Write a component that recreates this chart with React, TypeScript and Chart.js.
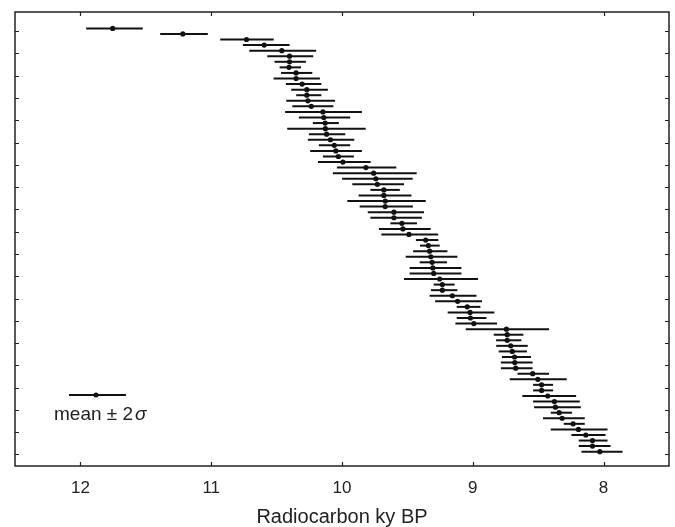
import React, { useEffect, useRef } from "react";
import { Chart, registerables } from "chart.js";

Chart.register(...registerables);

// ---- data (ky BP), one row per sample, top to bottom ----
const sampleIndex = [
  1, 2, 3, 4, 5, 6, 7, 8, 9, 10, 11, 12, 13, 14, 15, 16, 17, 18, 19, 20,
  21, 22, 23, 24, 25, 26, 27, 28, 29, 30, 31, 32, 33, 34, 35, 36, 37, 38, 39, 40,
  41, 42, 43, 44, 45, 46, 47, 48, 49, 50, 51, 52, 53, 54, 55, 56, 57, 58, 59, 60,
  61, 62, 63, 64, 65, 66, 67, 68, 69, 70, 71, 72, 73, 74, 75, 76, 77,
];

const meanAge = [
  11.753, 11.217, 10.73, 10.595, 10.46, 10.401, 10.401, 10.405, 10.351, 10.351,
  10.305, 10.269, 10.269, 10.261, 10.235, 10.146, 10.139, 10.129, 10.127, 10.118,
  10.089, 10.059, 10.047, 10.028, 9.993, 9.817, 9.758, 9.741, 9.73, 9.68,
  9.68, 9.669, 9.67, 9.603, 9.603, 9.542, 9.534, 9.488, 9.36, 9.34,
  9.33, 9.321, 9.311, 9.305, 9.299, 9.253, 9.233, 9.233, 9.156, 9.116,
  9.043, 9.021, 9.018, 8.992, 8.743, 8.737, 8.737, 8.71, 8.698, 8.681,
  8.679, 8.672, 8.542, 8.503, 8.474, 8.474, 8.427, 8.376, 8.368, 8.34,
  8.317, 8.233, 8.192, 8.136, 8.085, 8.085, 8.029,
];

// older end of the mean ± 2σ bar
const upperAge = [
  11.956, 11.39, 10.931, 10.758, 10.709, 10.571, 10.516, 10.477, 10.466, 10.523,
  10.429, 10.388, 10.35, 10.426, 10.38, 10.435, 10.33, 10.223, 10.419, 10.253,
  10.261, 10.177, 10.243, 10.146, 10.184, 10.039, 10.07, 9.999, 9.921, 9.783,
  9.873, 9.959, 9.865, 9.803, 9.783, 9.63, 9.718, 9.699, 9.435, 9.404,
  9.456, 9.513, 9.406, 9.483, 9.483, 9.526, 9.299, 9.32, 9.33, 9.288,
  9.123, 9.192, 9.123, 9.133, 9.054, 8.84, 8.822, 8.821, 8.802, 8.777,
  8.785, 8.785, 8.658, 8.718, 8.539, 8.539, 8.621, 8.539, 8.532, 8.404,
  8.463, 8.305, 8.404, 8.246, 8.19, 8.19, 8.169,
];

// younger end of the mean ± 2σ bar
const lowerAge = [
  11.523, 11.026, 10.522, 10.401, 10.198, 10.22, 10.276, 10.313, 10.227, 10.169,
  10.158, 10.108, 10.158, 10.053, 10.066, 9.848, 9.937, 10.024, 9.819, 9.975,
  9.906, 9.937, 9.848, 9.909, 9.781, 9.585, 9.429, 9.46, 9.526, 9.558,
  9.469, 9.36, 9.458, 9.373, 9.389, 9.427, 9.322, 9.265, 9.263, 9.253,
  9.194, 9.118, 9.197, 9.087, 9.087, 8.96, 9.139, 9.118, 8.972, 8.93,
  8.942, 8.835, 8.896, 8.815, 8.417, 8.613, 8.629, 8.58, 8.586, 8.555,
  8.543, 8.543, 8.417, 8.282, 8.386, 8.386, 8.21, 8.182, 8.174, 8.241,
  8.144, 8.144, 7.97, 7.985, 7.97, 7.947, 7.855,
];

const xTickValues = [12, 11, 10, 9, 8];
const yTickValues = [
  1.5, 5.5, 9.5, 13.5, 17.5, 21.5, 25.5, 29.5, 33.5, 37.5,
  41.5, 45.5, 49.5, 53.5, 57.5, 61.5, 65.5, 69.5, 73.5, 77.5,
];
const xAxisTitle = "Radiocarbon ky BP";
const legendLabel = "mean \u00B1 2";
const legendSigma = "\u03C3";

const FONT = '"Liberation Sans", Arial, sans-serif';
const INK = "#111111";

const errorBarPlugin = {
  id: "errorBars",
  beforeDatasetsDraw(chart: any) {
    const { ctx, scales } = chart;
    const xs = scales.x;
    const ys = scales.y;
    ctx.save();
    ctx.strokeStyle = INK;
    ctx.lineWidth = 2;
    ctx.lineCap = "butt";
    for (let i = 0; i < sampleIndex.length; i++) {
      const y = ys.getPixelForValue(sampleIndex[i]);
      ctx.beginPath();
      ctx.moveTo(xs.getPixelForValue(upperAge[i]), y);
      ctx.lineTo(xs.getPixelForValue(lowerAge[i]), y);
      ctx.stroke();
    }
    ctx.restore();
  },
};

const framePlugin = {
  id: "frame",
  afterDraw(chart: any) {
    const { ctx, chartArea, scales } = chart;
    const { left, right, top, bottom } = chartArea;
    const tl = 4;
    ctx.save();
    ctx.strokeStyle = "#222222";
    ctx.lineWidth = 1.5;
    ctx.strokeRect(left, top, right - left, bottom - top);
    ctx.lineWidth = 1.2;
    ctx.beginPath();
    for (const v of xTickValues) {
      const x = Math.round(scales.x.getPixelForValue(v)) + 0.5;
      ctx.moveTo(x, bottom);
      ctx.lineTo(x, bottom - tl);
      ctx.moveTo(x, top);
      ctx.lineTo(x, top + tl);
    }
    for (const v of yTickValues) {
      const y = Math.round(scales.y.getPixelForValue(v)) + 0.5;
      ctx.moveTo(left, y);
      ctx.lineTo(left + tl, y);
      ctx.moveTo(right, y);
      ctx.lineTo(right - tl, y);
    }
    ctx.stroke();

    // legend key: mean ± 2σ
    const ly = bottom - 71;
    ctx.strokeStyle = INK;
    ctx.lineWidth = 2;
    ctx.beginPath();
    ctx.moveTo(left + 54, ly);
    ctx.lineTo(left + 111, ly);
    ctx.stroke();
    ctx.fillStyle = INK;
    ctx.beginPath();
    ctx.arc(left + 81, ly, 2.5, 0, Math.PI * 2);
    ctx.fill();

    ctx.fillStyle = "#222222";
    ctx.textBaseline = "middle";
    ctx.textAlign = "left";
    ctx.font = `19px ${FONT}`;
    const tx = left + 39;
    const ty = bottom - 51;
    ctx.fillText(legendLabel, tx, ty);
    const w = ctx.measureText(legendLabel).width;
    ctx.font = `italic 19px ${FONT}`;
    ctx.fillText(legendSigma, tx + w + 2, ty);
    ctx.restore();
  },
};

export default function App() {
  const canvasRef = useRef<HTMLCanvasElement | null>(null);

  useEffect(() => {
    if (!canvasRef.current) return;
    const chart = new Chart(canvasRef.current, {
      type: "scatter",
      data: {
        datasets: [
          {
            data: sampleIndex.map((y, i) => ({ x: meanAge[i], y })),
            pointRadius: 2.6,
            pointBackgroundColor: INK,
            pointBorderWidth: 0,
            pointHoverRadius: 2.6,
          },
        ],
      },
      options: {
        animation: false,
        responsive: false,
        events: [],
        layout: { padding: { left: 15, right: 6, top: 12, bottom: 0 } },
        plugins: {
          legend: { display: false },
          tooltip: { enabled: false },
        },
        scales: {
          x: {
            type: "linear",
            min: 7.5,
            max: 12.5,
            reverse: true,
            grid: { display: false, drawTicks: false },
            border: { display: false },
            afterBuildTicks: (scale: any) => {
              scale.ticks = xTickValues.map((v) => ({ value: v }));
            },
            afterFit: (scale: any) => {
              scale.height = 61;
            },
            ticks: {
              autoSkip: false,
              maxRotation: 0,
              padding: 12,
              color: "#222222",
              font: { family: FONT, size: 17 },
            },
            title: {
              display: true,
              text: xAxisTitle,
              color: "#222222",
              font: { family: FONT, size: 20 },
              padding: { top: 0, bottom: -2 },
            },
          },
          y: {
            type: "linear",
            display: false,
            min: -1.94,
            max: 79.57,
            reverse: true,
          },
        },
      },
      plugins: [errorBarPlugin, framePlugin],
    });
    return () => chart.destroy();
  }, []);

  return (
    <div style={{ position: "absolute", left: 0, top: 0, width: 675, height: 527, background: "#fff" }}>
      <canvas ref={canvasRef} width={675} height={527} style={{ display: "block" }} />
    </div>
  );
}
